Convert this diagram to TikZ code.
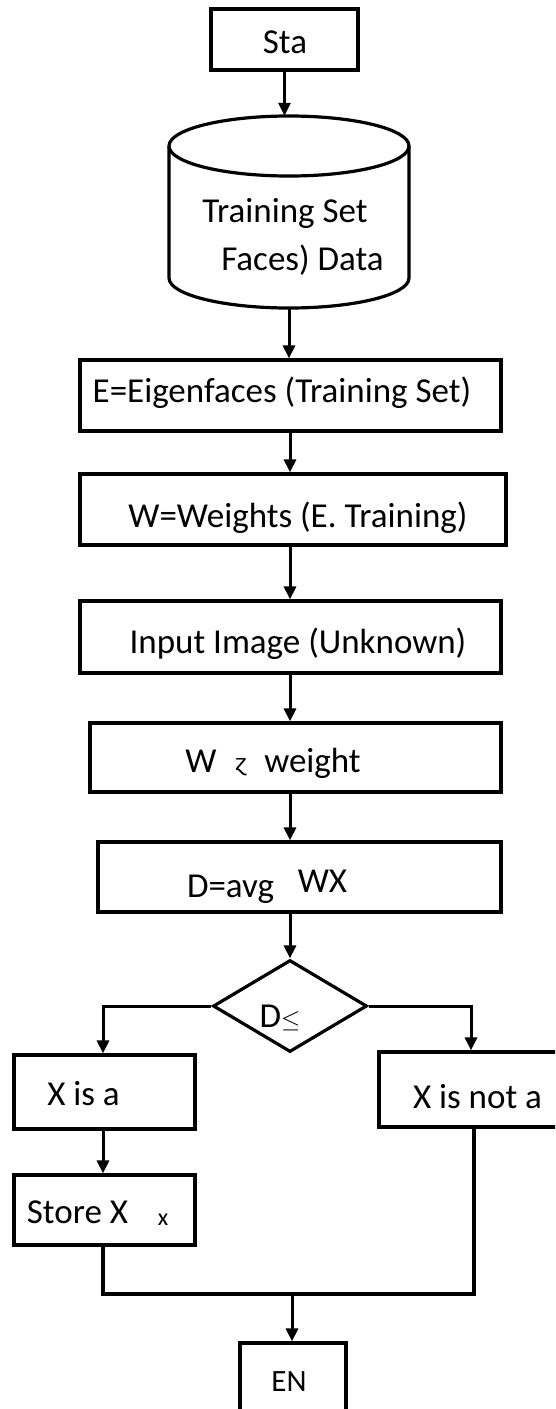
\documentclass[tikz,border=0pt]{standalone}
\usepackage{fontspec}
\setmainfont{Carlito}
\newfontfamily\djv{DejaVu Sans}
\usetikzlibrary{arrows.meta,shapes.geometric}
\begin{document}
\begin{tikzpicture}[x=1pt,y=1pt,
  box/.style={draw,line width=3.2pt,rectangle,inner sep=0pt},
  lbl/.style={inner sep=0pt,font=\fontsize{35}{40}\selectfont,anchor=base},
  arr/.style={line width=3pt,-{Triangle[width=12pt,length=13pt]}},
  ln/.style={line width=3.2pt}]
\useasboundingbox (0,0) rectangle (555,-1409);
\fill[white] (0,0) rectangle (555,-1409);
\clip (0,0) rectangle (555,-1409);
\coordinate (ax) at (290,0);
% boxes
\node[box,minimum width=147pt,minimum height=61pt] (start) at (284.5,-39.5) {};
\node[inner sep=0pt,minimum width=240pt,minimum height=192pt] (cyl) at (289,-212) {};
\draw[ln] (169,-146) -- (169,-278) arc[start angle=180,end angle=360,x radius=120,y radius=30] -- (409,-146);
\draw[ln] (289,-146) ellipse[x radius=120,y radius=30];
\node[box,minimum width=421pt,minimum height=71pt] (eig) at (290.5,-395.5) {};
\node[box,minimum width=426pt,minimum height=71pt] (wts) at (293,-509.5) {};
\node[box,minimum width=421pt,minimum height=72pt] (inp) at (290.5,-637) {};
\node[box,minimum width=411pt,minimum height=69pt] (wx) at (295.5,-757.5) {};
\node[box,minimum width=403pt,minimum height=70pt] (davg) at (299.5,-877) {};
\node[draw,line width=3.2pt,diamond,inner sep=0pt,aspect=1.67,minimum width=154pt,minimum height=92pt] (dia) at (290,-1006) {};
\node[box,minimum width=181pt,minimum height=74pt] (isa) at (104.5,-1092) {};
\node[box,minimum width=181pt,minimum height=70pt] (store) at (104.5,-1210) {};
\node[box,minimum width=191pt,minimum height=75pt] (nota) at (474.5,-1089.5) {};
\node[box,minimum width=106pt,minimum height=87pt] (en) at (293,-1386.5) {};
% texts
\node[lbl] (t1) at (285,-53) {Sta};
\node[lbl] (t2) at (285,-222) {Training Set};
\node[lbl] (t3) at (302.5,-270) {Faces) Data};
\node[lbl] (t4) at (282,-402) {E=Eigenfaces (Training Set)};
\node[lbl] (t5) at (298,-527) {W=Weights (E. Training)};
\node[lbl] (t6) at (298,-653) {Input Image (Unknown)};
\node[lbl] (t7) at (201,-772) {W};
\node[inner sep=0pt,anchor=base,font=\djv\fontsize{22}{24}\selectfont] (t8) at (241,-770) {ɀ};
\node[lbl] (t9) at (312.5,-772) {weight};
\node[lbl] (t10) at (230.5,-897) {D=avg};
\node[lbl] (t11) at (322.5,-892) {WX};
\node[lbl] (t12) at (280,-1027) {D$\le$};
\node[lbl] (t13) at (83.5,-1105) {X is a};
\node[lbl] (t14) at (77.5,-1223) {Store X};
\node[inner sep=0pt,anchor=base,font=\fontsize{24}{26}\selectfont] (t15) at (163,-1225) {x};
\node[lbl] (t16) at (477.5,-1108) {X is not a};
\node[lbl,font=\fontsize{31}{34}\selectfont] (t17) at (289,-1391) {EN};
% connectors
\draw[arr] (start.south) -- (start.south |- cyl.north);
\draw[arr] (cyl.south) -- (cyl.south |- eig.north);
\draw[arr] (eig.south -| ax) -- (wts.north -| ax);
\draw[arr] (wts.south -| ax) -- (inp.north -| ax);
\draw[arr] (inp.south -| ax) -- (wx.north -| ax);
\draw[arr] (wx.south -| ax) -- (davg.north -| ax);
\draw[arr] (davg.south -| dia.north) -- (dia.north);
\coordinate (lb) at (103,-1006);
\coordinate (rb) at (471,-1006);
\draw[arr] (dia.west) -- (lb) -- (lb |- isa.north);
\draw[arr] (dia.east) -- (rb) -- (rb |- nota.north);
\draw[arr] (isa.south -| lb) -- (store.north -| lb);
\coordinate (jr) at (474,-1294);
\coordinate (jm) at (292,-1294);
\draw[ln] (nota.south -| jr) -- (jr) -- (jr -| lb) -- (store.south -| lb);
\draw[arr] (jm) -- (jm |- en.north);
\end{tikzpicture}
\end{document}
